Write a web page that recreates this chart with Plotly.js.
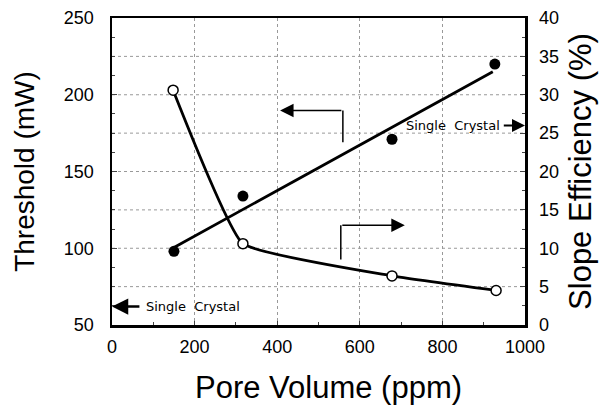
<!DOCTYPE html>
<html><head><meta charset="utf-8">
<script src="https://cdn.plot.ly/plotly-3.0.1.min.js"></script>
<style>body{margin:0;background:#fff}#c{width:608px;height:408px}</style>
</head><body><div id="c"></div>
<script>
// Threshold data (left axis)
const poreVolume = [150, 317, 678, 927];
const threshold = [98, 134, 171, 220];
const fitX = [150, 922];
const fitY = [100.5, 215];
// Slope efficiency data (right axis)
const slopeX = [148, 317, 678, 930];
const slopeEff = [30.6, 10.6, 6.4, 4.5];
// Single crystal reference values
const singleCrystalThreshold = 62;
const singleCrystalSlope = 26;
const xTicks = [0, 200, 400, 600, 800, 1000];
const yTicks = [50, 100, 150, 200, 250];
const y2Ticks = [0, 5, 10, 15, 20, 25, 30, 35, 40];

const font = 'Liberation Sans, Arial, sans-serif';
const traces = [
  {x: fitX, y: fitY, mode: 'lines', line: {color: '#000', width: 2.8}, yaxis: 'y', hoverinfo: 'skip'},
  {x: poreVolume, y: threshold, mode: 'markers', marker: {color: '#000', size: 11}, yaxis: 'y'},
  {x: slopeX, y: slopeEff, mode: 'lines+markers', line: {color: '#000', width: 2.8, shape: 'spline', smoothing: 0.35},
   marker: {color: '#fff', size: 10, line: {color: '#000', width: 1.5}}, yaxis: 'y2'}
];
const layout = {
  width: 608, height: 408, showlegend: false,
  margin: {l: 112, r: 83, t: 18, b: 83},
  paper_bgcolor: '#fff', plot_bgcolor: '#fff',
  font: {family: font, color: '#000'},
  xaxis: {range: [0, 1000], tickvals: xTicks, ticks: 'inside', ticklen: 4,
    minor: {dtick: 100, ticks: 'inside', ticklen: 3, showgrid: false},
    showline: true, linewidth: 2.5, linecolor: '#000', mirror: true, zeroline: false,
    showgrid: true, gridcolor: '#999', griddash: 'dot', gridwidth: 1,
    tickfont: {size: 18}, ticklabelstandoff: 4},
  yaxis: {range: [50, 250], tickvals: yTicks, ticks: 'inside', ticklen: 5,
    minor: {dtick: 12.5, ticks: 'inside', ticklen: 3, showgrid: false},
    showline: true, linewidth: 2.5, linecolor: '#000', zeroline: false,
    showgrid: false, tickfont: {size: 18}, ticklabelstandoff: 12,
    title: {text: 'Threshold (mW)', font: {size: 28}, standoff: 21}},
  yaxis2: {range: [0, 40], tickvals: y2Ticks, overlaying: 'y', side: 'right',
    ticks: 'inside', ticklen: 5, showline: true, linewidth: 2.5, linecolor: '#000', zeroline: false,
    minor: {dtick: 2.5, ticks: 'inside', ticklen: 3, showgrid: false},
    showgrid: false, tickfont: {size: 18}, ticklabelstandoff: 8,
    title: {text: 'Slope Efficiency (%)', font: {size: 31}, standoff: 11}},
  shapes: [
    // horizontal dotted grid every 25 mW
    ...[75, 100, 125, 150, 175, 200, 225].map(v => ({type: 'line', xref: 'paper', x0: 0, x1: 1, yref: 'y', y0: v, y1: v,
      line: {color: '#999', width: 1, dash: 'dot'}, layer: 'below'})),
    {type: 'line', xref: 'x', yref: 'y', x0: 559, x1: 559, y0: 169, y1: 189.7, line: {color: '#000', width: 1.5}},
    {type: 'line', xref: 'x', yref: 'y', x0: 554, x1: 554, y0: 92.6, y1: 115, line: {color: '#000', width: 1.5}}
  ],
  annotations: [
    {x: 0.525, y: -0.205, xref: 'paper', yref: 'paper', text: 'Pore Volume (ppm)', showarrow: false,
      xanchor: 'center', yanchor: 'middle', font: {size: 31}},
    {x: 407, y: 189.7, ax: 559, ay: 189.7, xref: 'x', yref: 'y', axref: 'x', ayref: 'y', text: '',
      showarrow: true, arrowhead: 2, arrowsize: 1.8, arrowwidth: 1.5, arrowcolor: '#000'},
    {x: 709, y: 115, ax: 554, ay: 115, xref: 'x', yref: 'y', axref: 'x', ayref: 'y', text: '',
      showarrow: true, arrowhead: 2, arrowsize: 1.8, arrowwidth: 1.5, arrowcolor: '#000'},
    {x: 0, y: singleCrystalThreshold, ax: 70, ay: singleCrystalThreshold, xref: 'x', yref: 'y', axref: 'x', ayref: 'y', text: '',
      showarrow: true, arrowhead: 2, arrowsize: 1.3, arrowwidth: 2.5, arrowcolor: '#000'},
    {x: 78, y: singleCrystalThreshold, xref: 'x', yref: 'y', text: 'Single  Crystal', showarrow: false, xanchor: 'left',
      font: {size: 13, family: 'DejaVu Sans, sans-serif'}},
    {x: 1000, y: singleCrystalSlope, ax: 945, ay: singleCrystalSlope, xref: 'x', yref: 'y2', axref: 'x', ayref: 'y2', text: '',
      showarrow: true, arrowhead: 2, arrowsize: 1.3, arrowwidth: 2, arrowcolor: '#000'},
    {x: 945, y: singleCrystalSlope, xref: 'x', yref: 'y2', text: 'Single  Crystal', showarrow: false, xanchor: 'right',
      font: {size: 13, family: 'DejaVu Sans, sans-serif'}}
  ]
};
Plotly.newPlot('c', traces, layout, {displayModeBar: false, staticPlot: true});
</script></body></html>
